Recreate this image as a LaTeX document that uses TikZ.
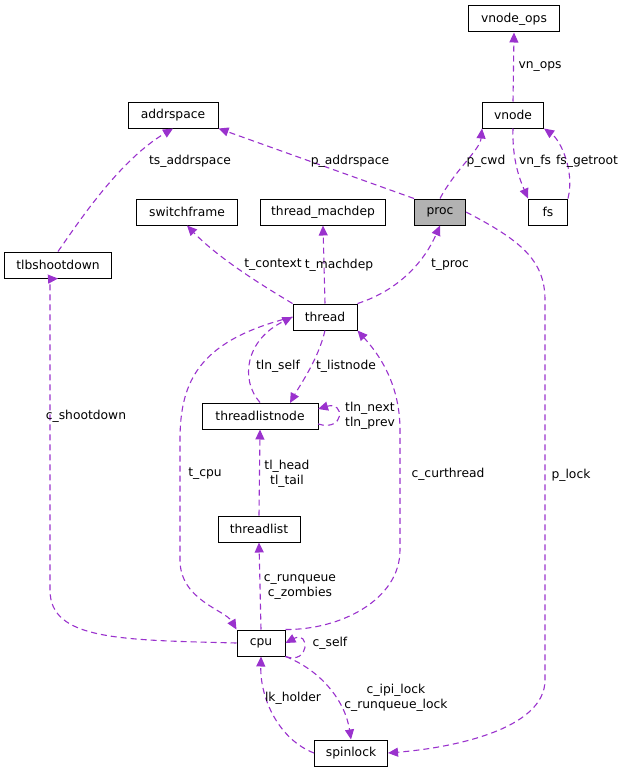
\documentclass[tikz,border=0pt]{standalone}
\usepackage{fontspec}
\setmainfont{DejaVu Sans}
\usetikzlibrary{arrows.meta}
\definecolor{edge}{HTML}{9A32CD}
\begin{document}
\begin{tikzpicture}[x=1pt,y=-1pt,
  box/.style={draw=black,line width=1pt,rectangle,minimum height=26pt,inner sep=0pt,font=\fontsize{12.3}{14}\selectfont},
  e/.style={draw=edge,line width=1.1pt,dash pattern=on 6pt off 4pt,-{Triangle[length=10pt,width=9pt]}},
  lab/.style={font=\fontsize{12.3}{14.5}\selectfont,align=center,inner sep=1pt}]
\useasboundingbox (0,0) rectangle (631,776);
\node[box,minimum width=91pt] (vops) at (514,19) {vnode\_ops};
\node[box,minimum width=90pt] (as) at (173,115) {addrspace};
\node[box,minimum width=61pt] (vn) at (513,115) {vnode};
\node[box,minimum width=101pt] (sf) at (187,212) {switchframe};
\node[box,minimum width=125pt] (tm) at (323,212) {thread\_machdep};
\node[box,minimum width=51pt,fill=black!30] (proc) at (440,212) {proc};
\node[box,minimum width=39pt] (fs) at (548,212) {fs};
\node[box,minimum width=107pt] (tlb) at (58,265) {tlbshootdown};
\node[box,minimum width=64pt] (th) at (325,317) {thread};
\node[box,minimum width=116pt] (tln) at (260,416) {threadlistnode};
\node[box,minimum width=82pt] (tl) at (259,529) {threadlist};
\node[box,minimum width=48pt] (cpu) at (261,643) {cpu};
\node[box,minimum width=73pt] (sl) at (351,753) {spinlock};
\coordinate (tlnA) at (318,424);
\coordinate (tlnB) at (318,409);
\coordinate (tlnT) at (290,403);

\draw[e] (vn.north) -- (vops.south);
\node[lab] (l1) at (540,67) {vn\_ops};
\draw[e] (proc.north west) -- (as.south east);
\node[lab] (l2) at (350,161) {p\_addrspace};
\draw[e] (proc.north) .. controls (455,170) and (480,150) .. (vn.south west);
\node[lab] (l3) at (486,161) {p\_cwd};
\draw[e] (vn.south) .. controls (512,160) and (520,180) .. (fs.north west);
\node[lab] (l4) at (535,161) {vn\_fs};
\draw[e] (fs.north east) .. controls (575,170) and (560,140) .. (vn.south east);
\node[lab] (l5) at (587,161) {fs\_getroot};
\draw[e] (tlb.north) .. controls (80,220) and (120,160) .. (as.south);
\node[lab] (l6) at (190,161) {ts\_addrspace};
\draw[e] (th.north west) .. controls (270,290) and (220,260) .. (sf.south);
\node[lab] (l7) at (273,265) {t\_context};
\draw[e] (th.north) -- (tm.south);
\node[lab] (l8) at (339,265) {t\_machdep};
\draw[e] (th.north east) .. controls (400,290) and (425,260) .. (proc.south);
\node[lab] (l9) at (450,265) {t\_proc};
\draw[e] (proc.east) .. controls (520,240) and (545,260) .. (545,300) -- (545,680) .. controls (545,730) and (450,748) .. (sl.east);
\node[lab] (l10) at (571,475) {p\_lock};
\draw[e] (th.south) .. controls (318,360) and (300,385) .. (tlnT);
\node[lab] (l11) at (346,366) {t\_listnode};
\draw[e] (tln.north) .. controls (240,380) and (245,340) .. (th.west);
\node[lab] (l12) at (278,366) {tln\_self};
\draw[e] (tlnA) .. controls (345,432) and (345,401) .. (tlnB);
\node[lab,align=left,anchor=west] (l13) at (344,416) {tln\_next\\tln\_prev};
\draw[e] (tl.north) -- (tln.south);
\node[lab] (l14) at (287,474) {tl\_head\\tl\_tail};
\draw[e] (th.west) .. controls (200,340) and (180,380) .. (180,440) -- (180,560) .. controls (180,600) and (225,610) .. (cpu.north west);
\node[lab] (l15) at (205,474) {t\_cpu};
\draw[e] (cpu.north east) .. controls (340,630) and (400,600) .. (400,550) -- (400,430) .. controls (400,380) and (375,350) .. (th.south east);
\node[lab] (l16) at (448,474) {c\_curthread};
\draw[e] (cpu.north) -- (tl.south);
\node[lab] (l17) at (300,587) {c\_runqueue\\c\_zombies};
\draw[e] (cpu.south east) .. controls (310,665) and (310,630) .. (cpu.east);
\node[lab] (l18) at (330,643) {c\_self};
\draw[e] (cpu.west) .. controls (120,640) and (50,640) .. (50,590) -- (50,279) -- (tlb.south);
\node[lab] (l19) at (86,416) {c\_shootdown};
\draw[e] (cpu.south east) .. controls (320,670) and (345,700) .. (sl.north);
\node[lab] (l20) at (396,698) {c\_ipi\_lock\\c\_runqueue\_lock};
\draw[e] (sl.west) .. controls (280,740) and (260,700) .. (cpu.south);
\node[lab] (l21) at (293,698) {lk\_holder};
\end{tikzpicture}
\end{document}
